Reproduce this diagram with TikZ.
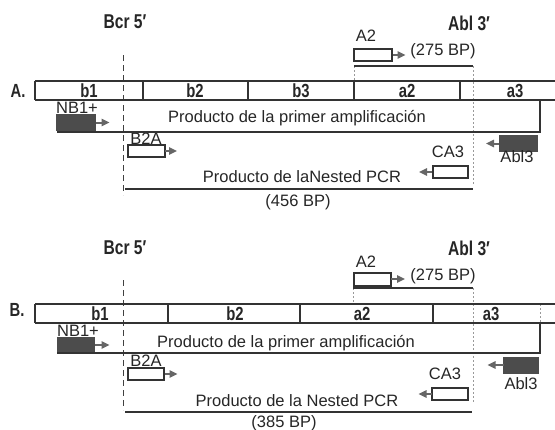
\documentclass[tikz,border=0pt]{standalone}
\usepackage{fontspec}
\setmainfont{Liberation Sans}
\newfontfamily\condfont[FakeStretch=0.78]{Liberation Sans}
\usetikzlibrary{arrows.meta,positioning}

\begin{document}
\begin{tikzpicture}[>=stealth, thick, x=1pt, y=-1pt, scale=0.5, transform shape]
    \tikzset{
        txtlbl/.style={inner sep=0pt, text=black!85, font=\fontsize{16.5}{18}\selectfont},
        exonlbl/.style={inner sep=0pt, text=black!85, font=\fontsize{19}{20}\selectfont\condfont\bfseries},
        headlbl/.style={inner sep=0pt, text=black!85, font=\fontsize{20}{22}\selectfont\condfont\bfseries},
        primer/.style={draw=black!80, fill=white, rectangle, minimum width=37, minimum height=12, inner sep=0pt, line width=1pt},
        dprimer/.style={primer, fill=black!70, draw=black!70, minimum height=15},
        barline/.style={draw=black!80, thick},
        ampline/.style={draw=black!80, thick},
        primerarr/.style={draw=black!60, -{Triangle[length=4pt,width=3.6pt]}, line width=1pt},
        bcrline/.style={draw=black!75, thin, dash pattern=on 3pt off 2pt},
        dotline/.style={draw=black!40, thin, dash pattern=on 0.8pt off 1.2pt}
    }
    \useasboundingbox (0,0) rectangle (555,429);

    % Panel A
    \node[headlbl] (bcrA) at (125,22) {Bcr 5′};
    \node[headlbl] (ablA) at (469,23) {Abl 3′};
    \node[exonlbl] (A) at (18,91) {A.};
    \draw[bcrline] (123,55) -- (123,195);
    \draw[dotline] (354,66) -- (354,81);
    \draw[dotline] (473,66) -- (473,184);
    \draw[barline] (35,81) -- (555,81) (35,100) -- (555,100) (35,81) -- (35,100)
        (143,81) -- (143,100) (248,81) -- (248,100) (354,81) -- (354,100) (460,81) -- (460,100);
    \node[exonlbl] (b1A) at (89,91) {b1};
    \node[exonlbl] (b2A) at (195,91) {b2};
    \node[exonlbl] (b3A) at (301,91) {b3};
    \node[exonlbl] (a2A) at (407,91) {a2};
    \node[exonlbl] (a3A) at (515,91) {a3};

    % Primers A
    \node[primer, minimum width=38] (a2pA) at (373,55) {};
    \node[txtlbl] (a2lA) at (366,36) {A2};
    \draw[primerarr] (a2pA.east) -- ++(13,0);
    \node[txtlbl] (bp275A) at (443,51) {(275 BP)};
    \draw[ampline] (354,66) -- (473,66);
    \node[dprimer, minimum width=38] (nb1A) at (76,122.5) {};
    \node[txtlbl] (nb1lA) at (77,108) {NB1+};
    \draw[primerarr] (nb1A.east) -- ++(14,0);
    \node[dprimer] (abl3A) at (518,143.5) {};
    \node[txtlbl] (abl3lA) at (517,157) {Abl3};
    \draw[primerarr] (abl3A.west) -- ++(-13,0);
    \node[primer] (b2aA) at (146,151) {};
    \node[txtlbl] (b2alA) at (146,139) {B2A};
    \draw[primerarr] (b2aA.east) -- ++(12,0);
    \node[primer, minimum width=35] (ca3A) at (450,172) {};
    \node[txtlbl] (ca3lA) at (448,152) {CA3};
    \draw[primerarr] (ca3A.west) -- ++(-13,0);

    % Products A
    \draw[ampline] (57,132) -- (540,132) -- (540,100);
    \node[txtlbl] (prim1A) at (297,118) {Producto de la primer amplificación};
    \node[txtlbl] (nestA) at (302,177) {Producto de laNested PCR};
    \draw[ampline] (125,189) -- (473,189);
    \node[txtlbl] (bp456) at (298,202) {(456 BP)};

    % Panel B
    \node[headlbl] (bcrB) at (125,248) {Bcr 5′};
    \node[headlbl] (ablB) at (469,248) {Abl 3′};
    \node[exonlbl] (B) at (17,310) {B.};
    \draw[bcrline] (123,280) -- (123,410);
    \draw[dotline] (353,288) -- (353,304);
    \draw[dotline] (473,288) -- (473,402);
    \draw[dotline] (540,304) -- (540,323);
    \draw[barline] (35,304) -- (555,304) (35,323) -- (555,323) (35,304) -- (35,323)
        (168,304) -- (168,323) (300,304) -- (300,323) (433,304) -- (433,323);
    \node[exonlbl] (b1B) at (100,314) {b1};
    \node[exonlbl] (b2B) at (235,314) {b2};
    \node[exonlbl] (a2B) at (362,314) {a2};
    \node[exonlbl] (a3B) at (491,314) {a3};

    % Primers B
    \node[primer, minimum height=13] (a2pB) at (372,279) {};
    \node[txtlbl] (a2lB) at (366,262) {A2};
    \draw[primerarr] (a2pB.east) -- ++(14,0);
    \node[txtlbl] (bp275B) at (443,276) {(275 BP)};
    \draw[ampline] (353,288) -- (473,288);
    \node[dprimer, minimum width=36] (nb1B) at (76,345) {};
    \node[txtlbl] (nb1lB) at (78,331) {NB1+};
    \draw[primerarr] (nb1B.east) -- ++(15,0);
    \node[dprimer, minimum width=34] (abl3B) at (521,365) {};
    \node[txtlbl] (abl3lB) at (521,384) {Abl3};
    \draw[primerarr] (abl3B.west) -- ++(-16,0);
    \node[primer, minimum width=36] (b2aB) at (146,374) {};
    \node[txtlbl] (b2alB) at (146,361) {B2A};
    \draw[primerarr] (b2aB.east) -- ++(13,0);
    \node[primer, minimum width=36] (ca3B) at (450,394) {};
    \node[txtlbl] (ca3lB) at (445,374) {CA3};
    \draw[primerarr] (ca3B.west) -- ++(-13,0);

    % Products B
    \draw[ampline] (57,353) -- (540,353) -- (540,323);
    \node[txtlbl] (prim1B) at (286,343) {Producto de la primer amplificación};
    \node[txtlbl] (nestB) at (297,401) {Producto de la Nested PCR};
    \draw[ampline] (125,412) -- (472,412);
    \node[txtlbl] (bp385) at (284,423) {(385 BP)};
\end{tikzpicture}
\end{document}
